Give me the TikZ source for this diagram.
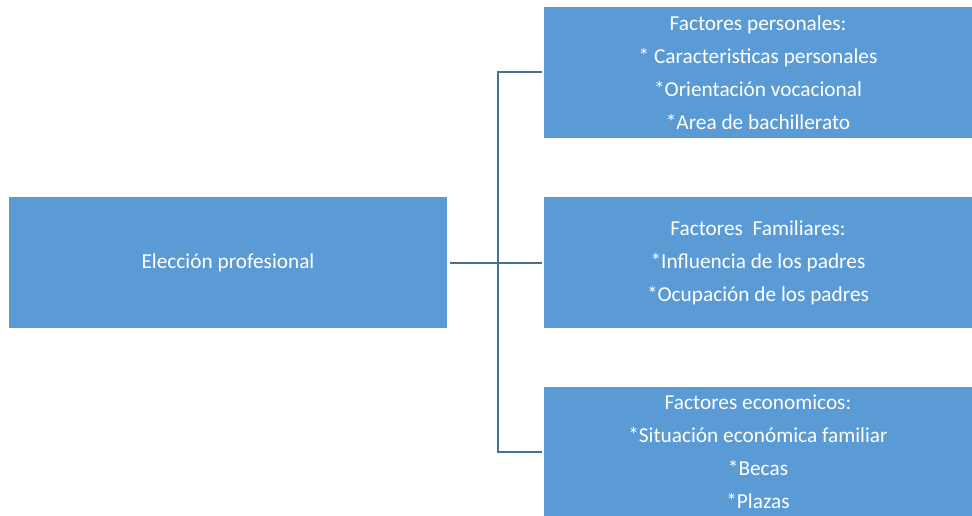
\documentclass[tikz,border=0pt]{standalone}
\usepackage{fontspec}
\setmainfont{Carlito}
\usepackage{tikz}
\usetikzlibrary{positioning}
\definecolor{boxblue}{HTML}{5B9BD5}
\definecolor{linkblue}{HTML}{41719C}
\tikzstyle{factor} = [fill=boxblue, text=white, inner sep=0pt, align=center, font=\fontsize{21.3}{33}\selectfont]
\tikzstyle{link} = [linkblue, line width=2pt]

\begin{document}
\begin{tikzpicture}[x=1pt, y=-1pt]
  % canvas
  \useasboundingbox (0,0) rectangle (972,516);

  % main box
  \node[factor, minimum width=438pt, minimum height=131pt] (eleccion) at (228,262.5) {Elecci\'on profesional};

  % factor boxes
  \node[factor, minimum width=428pt, minimum height=131pt] (personal) at (758,72.5)
    {Factores personales:\\* Caracteristicas personales\\*Orientaci\'on vocacional\\*Area de bachillerato};
  \node[factor, minimum width=428pt, minimum height=131pt] (familiar) at (758,262.5)
    {Factores\ \ Familiares:\\*Influencia de los padres\\*Ocupaci\'on de los padres};
  \node[factor, minimum width=428pt, minimum height=129pt] (economico) at (758,451.5)
    {Factores economicos:\\*Situaci\'on econ\'omica familiar\\*Becas\\*Plazas};

  % bracket
  \coordinate (split) at (498,262.5);
  \draw[link] (eleccion.east) ++(3,0) -- (split);
  \draw[link, shorten >=2pt] (split) |- (personal.west);
  \draw[link, shorten >=2pt] (split) -- (familiar.west);
  \draw[link, shorten >=2pt] (split) |- (economico.west);
\end{tikzpicture}
\end{document}
